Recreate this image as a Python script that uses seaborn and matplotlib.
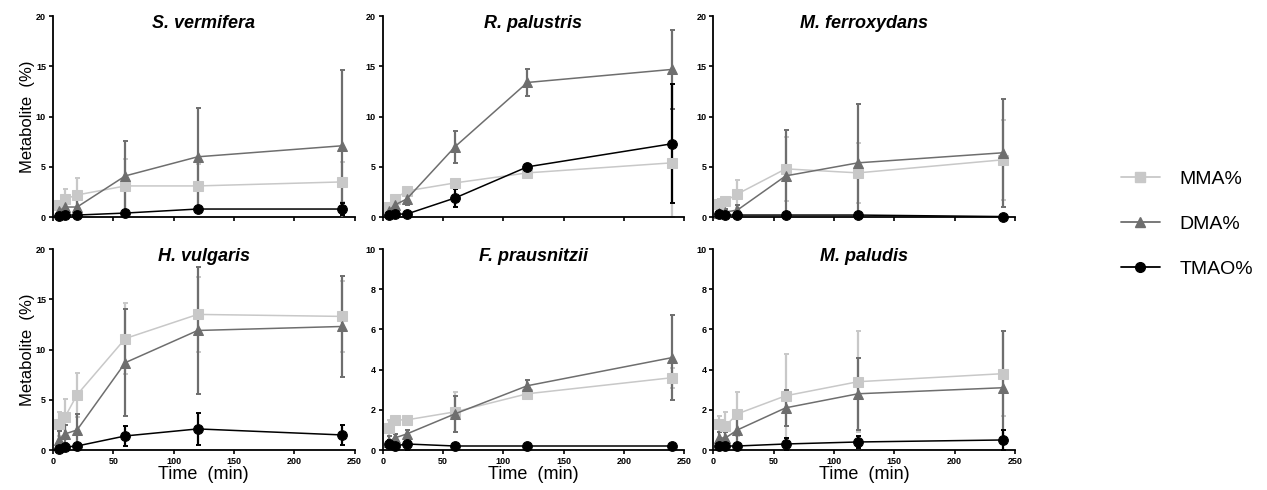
import numpy as np
import pandas as pd
import matplotlib
matplotlib.use("Agg")
import matplotlib.pyplot as plt
from matplotlib.lines import Line2D
import seaborn as sns

# -------------------------------
# Data
# -------------------------------
time = [5, 10, 20, 60, 120, 240]
species = ["S. vermifera", "R. palustris", "M. ferroxydans",
           "H. vulgaris", "F. prausnitzii", "M. paludis"]
y_max = [20, 20, 20, 20, 10, 10]

mma_mean = [[1.2, 1.8, 2.2, 3.1, 3.1, 3.5],
            [1.0, 1.8, 2.6, 3.4, 4.4, 5.4],
            [1.3, 1.6, 2.3, 4.8, 4.4, 5.7],
            [2.6, 3.3, 5.5, 11.1, 13.5, 13.3],
            [1.1, 1.5, 1.5, 1.9, 2.8, 3.6],
            [1.3, 1.2, 1.8, 2.7, 3.4, 3.8]]
mma_sd = [[0.4, 1.0, 1.7, 2.7, 2.2, 2.0],
          [0.3, 0.4, 0.4, 0.3, 0.3, 5.4],
          [0.5, 0.4, 1.4, 3.2, 3.0, 4.0],
          [1.2, 1.8, 2.2, 3.5, 3.7, 3.5],
          [0.4, 0.1, 0.1, 1.0, 0.2, 0.5],
          [0.4, 0.7, 1.1, 2.1, 2.5, 2.1]]

dma_mean = [[0.6, 1.0, 1.0, 4.1, 6.0, 7.1],
            [0.6, 1.2, 1.8, 7.0, 13.4, 14.7],
            [0.4, 0.5, 0.7, 4.1, 5.4, 6.4],
            [1.0, 1.6, 2.0, 8.7, 11.9, 12.3],
            [0.4, 0.6, 0.8, 1.8, 3.2, 4.6],
            [0.6, 0.6, 1.0, 2.1, 2.8, 3.1]]
dma_sd = [[0.4, 0.6, 1.1, 3.5, 4.9, 7.5],
          [0.3, 0.4, 0.6, 1.6, 1.3, 3.9],
          [0.3, 0.3, 0.5, 4.6, 5.9, 5.4],
          [0.9, 0.9, 1.6, 5.3, 6.3, 5.0],
          [0.3, 0.2, 0.2, 0.9, 0.3, 2.1],
          [0.3, 0.3, 0.8, 0.9, 1.8, 2.8]]

tmao_mean = [[0.1, 0.2, 0.2, 0.4, 0.8, 0.8],
             [0.2, 0.3, 0.3, 1.9, 5.0, 7.3],
             [0.3, 0.2, 0.2, 0.2, 0.2, 0.05],
             [0.1, 0.3, 0.4, 1.4, 2.1, 1.5],
             [0.3, 0.2, 0.3, 0.2, 0.2, 0.2],
             [0.2, 0.2, 0.2, 0.3, 0.4, 0.5]]
tmao_sd = [[0.1, 0.1, 0.1, 0.1, 0.1, 0.6],
           [0.1, 0.1, 0.1, 0.9, 0.3, 5.9],
           [0.1, 0.1, 0.1, 0.1, 0.1, 0.05],
           [0.1, 0.1, 0.1, 1.0, 1.6, 1.0],
           [0.2, 0.2, 0.3, 0.1, 0.1, 0.1],
           [0.1, 0.1, 0.1, 0.3, 0.3, 0.5]]

metabolites = ["MMA%", "DMA%", "TMAO%"]
colors = {"MMA%": "#c8c8c8", "DMA%": "#6e6e6e", "TMAO%": "#000000"}
markers = {"MMA%": "s", "DMA%": "^", "TMAO%": "o"}
msizes = {"MMA%": 6.5, "DMA%": 6.5, "TMAO%": 7}

# long table for seaborn
rows = []
for i, sp in enumerate(species):
    for name, mean, sd in [("MMA%", mma_mean, mma_sd),
                           ("DMA%", dma_mean, dma_sd),
                           ("TMAO%", tmao_mean, tmao_sd)]:
        for t, m, s in zip(time, mean[i], sd[i]):
            rows.append({"species": sp, "metabolite": name,
                         "time": t, "value": m, "sd": s})
df = pd.DataFrame(rows)

# -------------------------------
# Plot
# -------------------------------
sns.set_theme(style="ticks")
plt.rcParams["font.family"] = ["Liberation Sans", "DejaVu Sans"]
plt.rcParams["text.color"] = "black"
plt.rcParams["axes.labelcolor"] = "black"
plt.rcParams["xtick.color"] = "black"
plt.rcParams["ytick.color"] = "black"

fig = plt.figure(figsize=(12.67, 4.9), dpi=100)

lefts = [0.0418, 0.302, 0.563]
bottoms = [0.557, 0.0816]
w, h = 0.238, 0.41

for i, sp in enumerate(species):
    r, c = divmod(i, 3)
    ax = fig.add_axes([lefts[c], bottoms[r], w, h])
    sub = df[df["species"] == sp]
    for z, name in enumerate(metabolites):
        d = sub[sub["metabolite"] == name]
        ax.errorbar(d["time"], d["value"], yerr=d["sd"], fmt="none",
                    ecolor=colors[name], elinewidth=1.6, capsize=1.8,
                    capthick=1.4, zorder=2 + z)
        sns.lineplot(data=d, x="time", y="value", ax=ax, color=colors[name],
                     marker=markers[name], markersize=msizes[name],
                     markeredgecolor=colors[name], linewidth=1.1,
                     zorder=5 + z, clip_on=False, errorbar=None)
    ax.set_xlim(0, 250)
    ax.set_ylim(0, y_max[i])
    ax.set_xticks([0, 50, 100, 150, 200, 250])
    if y_max[i] == 20:
        ax.set_yticks([0, 5, 10, 15, 20])
    else:
        ax.set_yticks([0, 2, 4, 6, 8, 10])
    ax.tick_params(axis="both", length=3, width=1.2, labelsize=6.5, pad=2)
    for lab in ax.get_xticklabels() + ax.get_yticklabels():
        lab.set_fontweight("bold")
    for sname in ["left", "bottom"]:
        ax.spines[sname].set_linewidth(1.3)
        ax.spines[sname].set_color("black")
    sns.despine(ax=ax)
    if r == 0:
        ax.set_xticklabels([])
        ax.set_xlabel("")
    else:
        ax.set_xlabel("Time  (min)", fontsize=13, labelpad=0)
    if c == 0:
        ax.set_ylabel("Metabolite  (%)", fontsize=12, labelpad=1)
    else:
        ax.set_ylabel("")
    ax.set_title(sp, fontsize=13, fontweight="bold", fontstyle="italic",
                 y=0.9)

handles = [Line2D([0], [0], color=colors[n], marker=markers[n],
                  markersize=msizes[n], linewidth=1.3) for n in metabolites]
fig.legend(handles, metabolites, loc="center left",
           bbox_to_anchor=(0.877, 0.543), frameon=False, fontsize=14,
           handlelength=2.0, handletextpad=1.0, labelspacing=1.4,
           borderpad=0)

fig.savefig("out.png", dpi=100)
